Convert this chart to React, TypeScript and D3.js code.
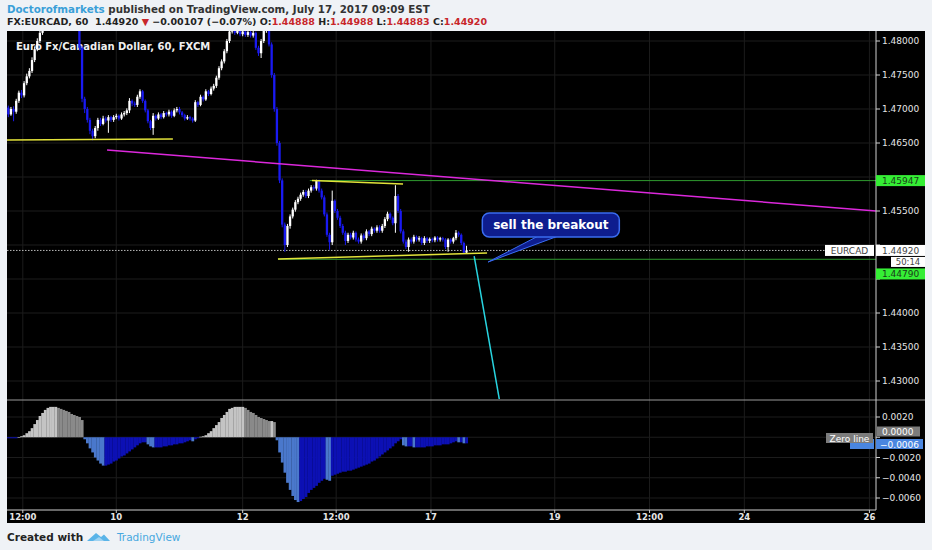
import React from 'react';
import * as d3 from 'd3';

// ---- Candle data (EUR/CAD, 60 min, FXCM) ----
const barOpen = [
  1.4702, 1.4692, 1.4700, 1.4696, 1.4712, 1.4724, 1.4720, 1.4738, 1.4748, 1.4756,
  1.4772, 1.4788, 1.4800, 1.4812, 1.4818, 1.4822, 1.4828, 1.4831, 1.4826, 1.4834,
  1.4838, 1.4835, 1.4840, 1.4837, 1.4832, 1.4828, 1.4830, 1.4824, 1.4790, 1.4715,
  1.4700, 1.4684, 1.4668, 1.4660, 1.4672, 1.4684, 1.4678, 1.4686, 1.4683, 1.4688,
  1.4684, 1.4688, 1.4690, 1.4686, 1.4692, 1.4694, 1.4698, 1.4712, 1.4708, 1.4706,
  1.4718, 1.4726, 1.4712, 1.4698, 1.4682, 1.4672, 1.4690, 1.4686, 1.4692, 1.4688,
  1.4694, 1.4692, 1.4696, 1.4690, 1.4698, 1.4700, 1.4695, 1.4691, 1.4686, 1.4688,
  1.4686, 1.4683, 1.4710, 1.4706, 1.4718, 1.4714, 1.4726, 1.4722, 1.4730, 1.4734,
  1.4746, 1.4760, 1.4770, 1.4785, 1.4800, 1.4814, 1.4818, 1.4812, 1.4816, 1.4810,
  1.4814, 1.4809, 1.4813, 1.4808, 1.4812, 1.4790, 1.4782, 1.4800, 1.4815, 1.4824,
  1.4795, 1.4750, 1.4700, 1.4650, 1.4595, 1.4530, 1.4500, 1.4528, 1.4542, 1.4552,
  1.4563, 1.4568, 1.4574, 1.4578, 1.4572, 1.4580, 1.4585, 1.4583, 1.4594, 1.4580,
  1.4570, 1.4545, 1.4515, 1.4504, 1.4565, 1.4550, 1.4540, 1.4528, 1.4518, 1.4506,
  1.4515, 1.4511, 1.4518, 1.4508, 1.4505, 1.4514, 1.4510, 1.4520, 1.4516, 1.4524,
  1.4521, 1.4526, 1.4521, 1.4528, 1.4538, 1.4546, 1.4540, 1.4532, 1.4572, 1.4550,
  1.4520, 1.4505, 1.4497, 1.4508, 1.4505, 1.4512, 1.4508, 1.4510, 1.4503, 1.4510,
  1.4506, 1.4509, 1.4507, 1.4511, 1.4508, 1.4510, 1.4508, 1.4497, 1.4508, 1.4505,
  1.4510, 1.4518, 1.4515, 1.4503, 1.44888,
];
const barHigh = [
  1.4705, 1.4703, 1.4704, 1.4715, 1.4727, 1.4728, 1.4741, 1.4752, 1.4760, 1.4776,
  1.4792, 1.4804, 1.4816, 1.4822, 1.4826, 1.4832, 1.4835, 1.4834, 1.4838, 1.4842,
  1.4842, 1.4844, 1.4843, 1.4840, 1.4835, 1.4834, 1.4833, 1.4827, 1.4793, 1.4718,
  1.4703, 1.4687, 1.4671, 1.4675, 1.4687, 1.4687, 1.4690, 1.4689, 1.4691, 1.4690,
  1.4691, 1.4693, 1.4692, 1.4695, 1.4697, 1.4701, 1.4716, 1.4714, 1.4711, 1.4721,
  1.4729, 1.4728, 1.4714, 1.4700, 1.4684, 1.4694, 1.4692, 1.4695, 1.4694, 1.4697,
  1.4696, 1.4699, 1.4698, 1.4701, 1.4703, 1.4703, 1.4697, 1.4693, 1.4691, 1.4690,
  1.4688, 1.4713, 1.4712, 1.4721, 1.4720, 1.4729, 1.4728, 1.4733, 1.4737, 1.4749,
  1.4763, 1.4773, 1.4788, 1.4803, 1.4817, 1.4822, 1.4820, 1.4819, 1.4819, 1.4817,
  1.4816, 1.4816, 1.4815, 1.4815, 1.4814, 1.4793, 1.4803, 1.4818, 1.4827, 1.4827,
  1.4798, 1.4753, 1.4703, 1.4653, 1.4598, 1.4533, 1.4531, 1.4545, 1.4555, 1.4566,
  1.4571, 1.4577, 1.4581, 1.4581, 1.4583, 1.4588, 1.4588, 1.4596, 1.4596, 1.4583,
  1.4573, 1.4548, 1.4518, 1.4580, 1.4567, 1.4553, 1.4543, 1.4531, 1.4521, 1.4518,
  1.4518, 1.4521, 1.4520, 1.4511, 1.4517, 1.4517, 1.4523, 1.4522, 1.4527, 1.4526,
  1.4529, 1.4529, 1.4531, 1.4541, 1.4549, 1.4548, 1.4542, 1.4588, 1.4575, 1.4553,
  1.4523, 1.4508, 1.4511, 1.4511, 1.4515, 1.4514, 1.4513, 1.4512, 1.4513, 1.4512,
  1.4511, 1.4511, 1.4513, 1.4513, 1.4512, 1.4512, 1.4510, 1.4510, 1.4510, 1.4512,
  1.4522, 1.4520, 1.4517, 1.4505, 1.44988,
];
const barLow = [
  1.4688, 1.4690, 1.4682, 1.4693, 1.4709, 1.4716, 1.4717, 1.4735, 1.4745, 1.4753,
  1.4769, 1.4785, 1.4797, 1.4809, 1.4815, 1.4819, 1.4825, 1.4823, 1.4823, 1.4831,
  1.4832, 1.4833, 1.4834, 1.4829, 1.4825, 1.4826, 1.4820, 1.4786, 1.4710, 1.4694,
  1.4680, 1.4663, 1.4654, 1.4657, 1.4668, 1.4675, 1.4676, 1.4680, 1.4665, 1.4681,
  1.4681, 1.4685, 1.4683, 1.4684, 1.4689, 1.4691, 1.4694, 1.4704, 1.4703, 1.4703,
  1.4715, 1.4709, 1.4695, 1.4679, 1.4669, 1.4662, 1.4683, 1.4684, 1.4685, 1.4686,
  1.4689, 1.4689, 1.4687, 1.4688, 1.4695, 1.4692, 1.4688, 1.4683, 1.4684, 1.4683,
  1.4680, 1.4681, 1.4703, 1.4704, 1.4711, 1.4712, 1.4719, 1.4720, 1.4727, 1.4731,
  1.4743, 1.4757, 1.4767, 1.4782, 1.4797, 1.4811, 1.4809, 1.4810, 1.4807, 1.4807,
  1.4806, 1.4806, 1.4805, 1.4805, 1.4787, 1.4778, 1.4775, 1.4797, 1.4812, 1.4792,
  1.4746, 1.4696, 1.4646, 1.4591, 1.4526, 1.4490, 1.4497, 1.4524, 1.4539, 1.4549,
  1.4560, 1.4565, 1.4571, 1.4569, 1.4569, 1.4577, 1.4580, 1.4580, 1.4577, 1.4567,
  1.4542, 1.4512, 1.4493, 1.4500, 1.4547, 1.4537, 1.4525, 1.4515, 1.4500, 1.4503,
  1.4508, 1.4508, 1.4505, 1.4502, 1.4502, 1.4507, 1.4507, 1.4513, 1.4513, 1.4518,
  1.4518, 1.4518, 1.4518, 1.4525, 1.4535, 1.4537, 1.4529, 1.4518, 1.4547, 1.4517,
  1.4502, 1.4494, 1.4490, 1.4502, 1.4502, 1.4505, 1.4505, 1.4500, 1.4500, 1.4503,
  1.4503, 1.4504, 1.4504, 1.4505, 1.4505, 1.4505, 1.4494, 1.4490, 1.4502, 1.4502,
  1.4507, 1.4512, 1.4500, 1.4487, 1.44883,
];
const barClose = [
  1.4692, 1.4700, 1.4696, 1.4712, 1.4724, 1.4720, 1.4738, 1.4748, 1.4756, 1.4772,
  1.4788, 1.4800, 1.4812, 1.4818, 1.4822, 1.4828, 1.4831, 1.4826, 1.4834, 1.4838,
  1.4835, 1.4840, 1.4837, 1.4832, 1.4828, 1.4830, 1.4824, 1.4790, 1.4715, 1.4700,
  1.4684, 1.4668, 1.4660, 1.4672, 1.4684, 1.4678, 1.4686, 1.4683, 1.4688, 1.4684,
  1.4688, 1.4690, 1.4686, 1.4692, 1.4694, 1.4698, 1.4712, 1.4708, 1.4706, 1.4718,
  1.4726, 1.4712, 1.4698, 1.4682, 1.4672, 1.4690, 1.4686, 1.4692, 1.4688, 1.4694,
  1.4692, 1.4696, 1.4690, 1.4698, 1.4700, 1.4695, 1.4691, 1.4686, 1.4688, 1.4686,
  1.4683, 1.4710, 1.4706, 1.4718, 1.4714, 1.4726, 1.4722, 1.4730, 1.4734, 1.4746,
  1.4760, 1.4770, 1.4785, 1.4800, 1.4814, 1.4818, 1.4812, 1.4816, 1.4810, 1.4814,
  1.4809, 1.4813, 1.4808, 1.4812, 1.4790, 1.4782, 1.4800, 1.4815, 1.4824, 1.4795,
  1.4750, 1.4700, 1.4650, 1.4595, 1.4530, 1.4500, 1.4528, 1.4542, 1.4552, 1.4563,
  1.4568, 1.4574, 1.4578, 1.4572, 1.4580, 1.4585, 1.4583, 1.4594, 1.4580, 1.4570,
  1.4545, 1.4515, 1.4504, 1.4565, 1.4550, 1.4540, 1.4528, 1.4518, 1.4506, 1.4515,
  1.4511, 1.4518, 1.4508, 1.4505, 1.4514, 1.4510, 1.4520, 1.4516, 1.4524, 1.4521,
  1.4526, 1.4521, 1.4528, 1.4538, 1.4546, 1.4540, 1.4532, 1.4572, 1.4550, 1.4520,
  1.4505, 1.4497, 1.4508, 1.4505, 1.4512, 1.4508, 1.4510, 1.4503, 1.4510, 1.4506,
  1.4509, 1.4507, 1.4511, 1.4508, 1.4510, 1.4508, 1.4497, 1.4508, 1.4505, 1.4510,
  1.4518, 1.4515, 1.4503, 1.44888, 1.44920,
];

// ---- Oscillator histogram (units of 0.0001) ----
const histTenThousandths = [
  -1, -1, -1, -1, 0.2, 1, 2, 4, 6, 9,
  13, 17, 21, 24, 27, 29, 30, 30, 30, 29,
  28, 27, 26, 25, 23, 22, 21, 20, 17, -2,
  -6, -11, -15, -20, -23, -26, -28, -28, -27, -26,
  -24, -23, -21, -19, -18, -16, -14, -12, -10, -8,
  -6, -5, -5, -7, -9, -10, -10, -10, -10, -9,
  -9, -8, -8, -7, -7, -6, -6, -5, -4, -3,
  -4, -2, -1, 0.5, 1, 2, 4, 6, 9, 12,
  15, 19, 22, 25, 28, 29, 30, 30, 30, 30,
  29, 27, 25, 24, 22, 20, 19, 18, 17, 16,
  16, 15, -3, -15, -25, -35, -45, -52, -58, -62,
  -64, -63, -61, -59, -55, -52, -50, -48, -45, -43,
  -41, -42, -43, -38, -37, -36, -35, -34, -34, -33,
  -33, -32, -31, -30, -29, -28, -27, -26, -24, -23,
  -21, -19, -17, -15, -13, -11, -9, -6, -4, -2,
  -8, -9, -9, -9, -10, -10, -10, -10, -10, -9,
  -9, -9, -8, -8, -8, -7, -7, -7, -6, -5,
  -4, -5, -5, -6, -6,
];

// ---- Axes ----
const priceTicks = [1.43, 1.435, 1.44, 1.445, 1.45, 1.455, 1.46, 1.465, 1.47, 1.475, 1.48];
const histTicks = [0.002, 0.0, -0.002, -0.004, -0.006];
const timeTickBars = [5.5, 41, 89, 124.5, 160.5, 207.5, 243.5, 279.5, 327];
const timeTickLabels = ['12:00', '10', '12', '12:00', '17', '19', '12:00', '24', '26'];

// ---- Drawings (bar index, price) ----
const supportLeft = [[-0.5, 1.46544], [62.5, 1.46559]];
const magentaTrend = [[37.5, 1.46397], [329.5, 1.4550]];
const upperYellow = [[115.3, 1.45949], [149.9, 1.45897]];
const lowerYellow = [[102.4, 1.44794], [181.8, 1.44882]];
const greenUpper = [[114.5, 1.45947], [329.5, 1.45947]];
const greenLower = [[102.4, 1.4479], [329.5, 1.4479]];
const cyanProjection = [[176.9, 1.44838], [186.6, 1.4270]];
const calloutTip = [182.2, 1.4475];
const calloutAnchor = [180, 1.45471];

const lastPrice = 1.4492;
const levelTags = [1.45947, 1.4479];

export default function App() {
  const W = 932, H = 550;
  const left = 7, right = 876, frameRight = 925;
  const paneTop = 31, paneBottom = 400, histBottom = 510, frameBottom = 523;
  const font = 'DejaVu Sans, Verdana, sans-serif';

  const x = d3.scaleLinear().domain([-0.5, 329.5]).range([left, right]);
  const y = d3.scaleLinear().domain([1.43, 1.48]).range([381, 41]);
  const yh = d3.scaleLinear().domain([-0.006, 0.002]).range([498, 417]);
  const line = d3.line<number[]>().x(d => x(d[0])).y(d => y(d[1]));

  const bw = 2.3;
  const step = x(1) - x(0);
  const red = '#c8262a';
  const axisText = '#e6e6e6';

  const hist = histTenThousandths.map(v => v * 1e-4);
  const histColor = (i: number) => {
    const v = hist[i];
    const prev = i > 0 ? hist[i - 1] : v;
    if (v >= 0) return v >= prev ? '#c4c4c4' : '#8a8a8a';
    return v < prev ? '#4a78cc' : '#0c10b4';
  };

  const fmtPrice = d3.format('.5f');
  const fmtHist = (v: number) => (v < 0 ? '\u2212' : '') + d3.format('.4f')(Math.abs(v));

  const ly = y(lastPrice);
  const ax = x(calloutAnchor[0]);
  const ay = y(calloutAnchor[1]);
  const tipX = x(calloutTip[0]);
  const tipY = y(calloutTip[1]);

  // tick labels hidden behind the price tags are not drawn
  const tagYs = [ly, ly + 11, ly + 23, ...levelTags.map(p => y(p))];
  const visiblePriceTicks = priceTicks.filter(t => tagYs.every(ty => Math.abs(y(t) - ty) > 10));
  const visibleHistTicks = histTicks.filter(t => t !== 0);

  return (
    <div style={{ position: 'fixed', left: 0, top: 0 }}>
      <svg width={W} height={H} style={{ display: 'block' }}>
        <defs>
          <clipPath id="pricePane">
            <rect x={left} y={paneTop} width={right - left} height={paneBottom - paneTop - 1} />
          </clipPath>
          <clipPath id="histPane">
            <rect x={left} y={paneBottom + 1} width={right - left} height={histBottom - paneBottom - 1} />
          </clipPath>
        </defs>
        <rect x={0} y={0} width={W} height={H} fill="#eff2f6" />

        {/* header */}
        <text x={7} y={12.5} fontFamily={font} fontSize={10.3} fontWeight="bold" fill="#333">
          <tspan fill="#3a9fd8">Doctorofmarkets</tspan>
          <tspan> published on TradingView.com, July 17, 2017 09:09 EST</tspan>
        </text>
        <text x={7} y={24.5} fontFamily={font} fontSize={9.5} fontWeight="bold" fill="#222">
          <tspan>{'FX:EURCAD, 60\u00a0\u00a01.44920 '}</tspan>
          <tspan fill={red}>▼</tspan>
          <tspan> −0.00107 (−0.07%) O:</tspan>
          <tspan fill={red}>1.44888</tspan>
          <tspan> H:</tspan>
          <tspan fill={red}>1.44988</tspan>
          <tspan> L:</tspan>
          <tspan fill={red}>1.44883</tspan>
          <tspan> C:</tspan>
          <tspan fill={red}>1.44920</tspan>
        </text>

        {/* chart frame */}
        <rect x={left} y={paneTop} width={frameRight - left} height={frameBottom - paneTop} fill="#000" />

        {/* grid */}
        {priceTicks.map(t => (
          <line key={'pg' + t} x1={left} x2={right} y1={y(t)} y2={y(t)} stroke="#1c1c1c" strokeWidth={1} />
        ))}
        {histTicks.map(t => (
          <line key={'hg' + t} x1={left} x2={right} y1={yh(t)} y2={yh(t)} stroke="#1c1c1c" strokeWidth={1} />
        ))}
        {timeTickBars.map((b, k) => (
          <line key={'vg' + k} x1={x(b)} x2={x(b)} y1={paneTop} y2={histBottom} stroke="#1c1c1c" strokeWidth={1} />
        ))}

        {/* price pane */}
        <g clipPath="url(#pricePane)">
          <line x1={left} x2={826} y1={ly} y2={ly} stroke="#b8b8b8" strokeWidth={1} strokeDasharray="1.5,1.5" />
          <path d={line(greenUpper) || ''} stroke="#2f9a2f" strokeWidth={1} fill="none" />
          <path d={line(greenLower) || ''} stroke="#2f9a2f" strokeWidth={1} fill="none" />
          <text x={16} y={50} fontFamily={font} fontSize={10} fontWeight="bold" fill="#f0f0f0">
            Euro Fx/Canadian Dollar, 60, FXCM
          </text>
          {barClose.map((c, i) => {
            const o = barOpen[i];
            const up = c >= o;
            const col = up ? '#ffffff' : '#1a1af2';
            const cx = x(i);
            const top = y(Math.max(o, c));
            const bot = y(Math.min(o, c));
            return (
              <g key={'c' + i}>
                <line x1={cx} x2={cx} y1={y(barHigh[i])} y2={y(barLow[i])} stroke={col} strokeWidth={1} />
                <rect x={cx - bw / 2} y={top} width={bw} height={Math.max(1, bot - top)} fill={col} />
              </g>
            );
          })}
          <path d={line(supportLeft) || ''} stroke="#e2e23a" strokeWidth={1.5} fill="none" />
          <path d={line(upperYellow) || ''} stroke="#e2e23a" strokeWidth={1.5} fill="none" />
          <path d={line(lowerYellow) || ''} stroke="#e2e23a" strokeWidth={1.5} fill="none" />
          <path d={line(magentaTrend) || ''} stroke="#dc28dc" strokeWidth={1.5} fill="none" />
          <path d={line(cyanProjection) || ''} stroke="#28d4e0" strokeWidth={1.5} fill="none" />

          {/* callout */}
          <polygon
            points={`${ax + 56},${ay + 23} ${ax + 76},${ay + 23} ${tipX},${tipY}`}
            fill="#0e1d8e" stroke="#3a6cf0" strokeWidth={1}
          />
          <rect x={ax} y={ay} width={137} height={24} rx={7} fill="#0e1d8e" stroke="#3a6cf0" strokeWidth={1.5} />
          <text x={ax + 68.5} y={ay + 16.5} textAnchor="middle" fontFamily={font} fontSize={12} fontWeight="bold" fill="#fff">
            sell the breakout
          </text>
        </g>

        {/* histogram pane */}
        <g clipPath="url(#histPane)">
          {hist.map((v, i) => {
            const y0 = yh(Math.max(v, 0));
            const y1 = yh(Math.min(v, 0));
            return (
              <rect key={'h' + i} x={x(i) - step / 2} y={y0} width={step + 0.2} height={Math.max(0.6, y1 - y0)} fill={histColor(i)} />
            );
          })}
        </g>

        {/* separators */}
        <line x1={left} x2={frameRight} y1={paneBottom} y2={paneBottom} stroke="#9a9a9a" strokeWidth={1} />
        <line x1={right} x2={right} y1={paneTop} y2={histBottom} stroke="#cfcfcf" strokeWidth={1} />
        <line x1={left} x2={right} y1={histBottom} y2={histBottom} stroke="#cfcfcf" strokeWidth={1} />

        {/* price axis */}
        {priceTicks.map(t => (
          <line key={'ptm' + t} x1={right} x2={right + 4} y1={y(t)} y2={y(t)} stroke="#cfcfcf" />
        ))}
        {visiblePriceTicks.map(t => (
          <text key={'pt' + t} x={882} y={y(t) + 3.3} fontFamily={font} fontSize={9} fill={axisText}>{fmtPrice(t)}</text>
        ))}
        {histTicks.map(t => (
          <line key={'htm' + t} x1={right} x2={right + 4} y1={yh(t)} y2={yh(t)} stroke="#cfcfcf" />
        ))}
        {visibleHistTicks.map(t => (
          <text key={'ht' + t} x={882} y={yh(t) + 3.3} fontFamily={font} fontSize={9} fill={axisText}>{fmtHist(t)}</text>
        ))}

        {/* time axis */}
        {timeTickBars.map((b, k) => (
          <g key={'tt' + k}>
            <line x1={x(b)} x2={x(b)} y1={histBottom} y2={histBottom + 3} stroke="#cfcfcf" />
            <text x={x(b)} y={520} textAnchor="middle" fontFamily={font} fontSize={8.5} fontWeight="bold" fill={axisText}>
              {timeTickLabels[k]}
            </text>
          </g>
        ))}

        {/* price tags */}
        <rect x={right} y={y(levelTags[0]) - 5.5} width={49} height={11} fill="#35ee35" />
        <text x={882} y={y(levelTags[0]) + 3.3} fontFamily={font} fontSize={9} fill="#1a3a1a">{fmtPrice(levelTags[0])}</text>
        <rect x={825} y={ly - 5.5} width={49} height={11} fill="#fff" />
        <text x={849.5} y={ly + 3.3} textAnchor="middle" fontFamily={font} fontSize={9} fill="#444">EURCAD</text>
        <rect x={right} y={ly - 5.5} width={49} height={11} fill="#fff" />
        <text x={882} y={ly + 3.3} fontFamily={font} fontSize={9} fill="#444">{fmtPrice(lastPrice)}</text>
        <rect x={891} y={ly + 6.5} width={34} height={10} fill="#fff" />
        <text x={908} y={ly + 14.5} textAnchor="middle" fontFamily={font} fontSize={8.5} fill="#444">50:14</text>
        <rect x={right} y={ly + 18} width={49} height={11} fill="#35ee35" />
        <text x={882} y={ly + 26.8} fontFamily={font} fontSize={9} fill="#1a3a1a">{fmtPrice(levelTags[1])}</text>

        {/* oscillator tags */}
        <rect x={850} y={439} width={24} height={10} fill="#4a86e0" />
        <rect x={826} y={433} width={47} height={10} fill="#7c7c7c" />
        <text x={849.5} y={441.5} textAnchor="middle" fontFamily={font} fontSize={9} fill="#fff">Zero line</text>
        <rect x={877} y={426.5} width={43} height={10} fill="#7c7c7c" />
        <text x={882} y={435} fontFamily={font} fontSize={9} fill="#fff">{fmtHist(0)}</text>
        <rect x={876} y={439} width={47} height={10} fill="#4a86e0" />
        <text x={880} y={447.5} fontFamily={font} fontSize={9} fill="#fff">{fmtHist(hist[hist.length - 1])}</text>

        {/* footer */}
        <text x={7} y={541} fontFamily={font} fontSize={10.5} fontWeight="bold" fill="#222">Created with</text>
        <path d="M87,541 L96,533 L101,537 L104,534.5 L110,541 Z" fill="#5ab4e8" />
        <path d="M93,541 L99,537 L104,541 Z" fill="#9fd3f2" />
        <text x={117} y={541} fontFamily={font} fontSize={10.5} fill="#47a8e0">TradingView</text>
      </svg>
    </div>
  );
}
